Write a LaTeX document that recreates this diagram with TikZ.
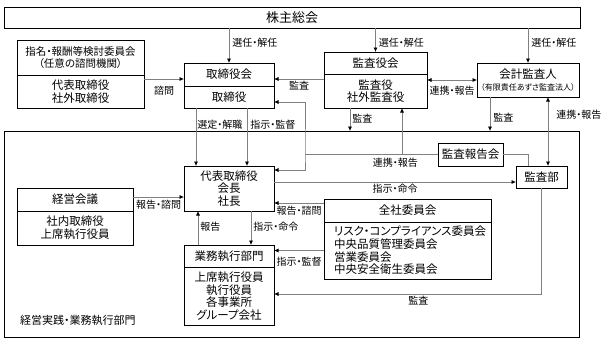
\documentclass[tikz,border=0pt]{standalone}
\usepackage{fontspec}
\setmainfont{Noto Sans CJK JP}[RawFeature=+palt]
\usepackage{tikz}
\usetikzlibrary{arrows.meta, positioning, calc}

\begin{document}
\begin{tikzpicture}[x=1pt, y=-1pt,
  box/.style={rectangle, draw, line width=0.9pt, inner sep=0pt, outer sep=0pt, align=center, font=\fontsize{11.5}{12.7}\selectfont},
  conn/.style={draw=black!50, line width=0.7pt},
  arr/.style={conn, -{Latex[length=4.5pt, width=4pt, color=black]}},
  arrboth/.style={conn, {Latex[length=4.5pt, width=4pt, color=black]}-{Latex[length=4.5pt, width=4pt, color=black]}},
  lbl/.style={font=\fontsize{10}{11}\selectfont, inner sep=0pt, text=black}]
\useasboundingbox (0,0) rectangle (605,343);

% 株主総会・取締役会・監査役会
\node (soukai) [box, minimum width=576, minimum height=21, font=\fontsize{13}{14}\selectfont] at (292,17.5) {株主総会};
\node (shimei) [box, minimum width=127, minimum height=35, font=\fontsize{10.5}{12}\selectfont] at (80.5,57.5) {指名・報酬等検討委員会\\（任意の諮問機関）};
\node (shimeimem) [box, minimum width=127, minimum height=33, below=0pt of shimei] {代表取締役\\社外取締役};
\node (torikai) [box, minimum width=90, minimum height=23] at (229,74.5) {取締役会};
\node (torishimari) [box, minimum width=90, minimum height=22, below=0pt of torikai] {取締役};
\node (kansakai) [box, minimum width=103, minimum height=22] at (375.5,63) {監査役会};
\node (kansayaku) [box, minimum width=103, minimum height=34, below=0pt of kansakai] {監査役\\社外監査役};
\node (kaikei) [box, minimum width=102, minimum height=34] at (528,80) {会計監査人\\{\fontsize{8}{9}\selectfont （有限責任あずさ監査法人）}};

% 経営実践・業務執行部門
\node (jikkou) [box, minimum width=575, minimum height=206] at (291.5,234) {};
\node (jikkoulbl) [anchor=west, inner sep=0pt, font=\fontsize{11}{12.5}\selectfont] at (20,320) {経営実践・業務執行部門};
\node (daihyou) [box, minimum width=90, minimum height=45] at (229,188.5) {代表取締役\\会長\\社長};
\node (keieikaigi) [box, minimum width=116, minimum height=23] at (75,199.5) {経営会議};
\node (keieimem) [box, minimum width=116, minimum height=34, below=0pt of keieikaigi] {社内取締役\\上席執行役員};
\node (gyoumu) [box, minimum width=90, minimum height=22] at (229,256) {業務執行部門};
\node (gyoumumem) [box, minimum width=90, minimum height=58, below=0pt of gyoumu] {上席執行役員\\執行役員\\各事業所\\グループ会社};
\node (zensha) [box, minimum width=167, minimum height=23] at (407.5,210.5) {全社委員会};
\node (zenshamem) [box, minimum width=167, minimum height=57, text width=147, align=left, inner xsep=10, below=0pt of zensha] {リスク・コンプライアンス委員会\\中央品質管理委員会\\営業委員会\\中央安全衛生委員会};
\node (kansahoukoku) [box, minimum width=65, minimum height=23] at (470.5,154.5) {監査報告会};
\node (kansabu) [box, minimum width=51, minimum height=22] at (541.5,177) {監査部};

% 選任・解任
\draw [arr] (soukai.south -| torikai.north) -- node[lbl, right=3pt, pos=0.41] {選任・解任} (torikai.north);
\draw [arr] (soukai.south -| kansakai.north) -- node[lbl, right=3pt, pos=0.6] {選任・解任} (kansakai.north);
\draw [arr] (soukai.south -| kaikei.north) -- node[lbl, right=3pt, pos=0.41] {選任・解任} (kaikei.north);

\draw [arr] ([yshift=-4pt]shimeimem.north east) -- node[lbl, below=7pt] {諮問} ([yshift=-4pt]shimeimem.north east -| torikai.west);
\draw [arr] ([yshift=-5pt]kansayaku.north west) -- node[lbl, below=2pt] {監査} ([yshift=-5pt]kansayaku.north west -| torikai.east);
\draw [arrboth] (kansayaku.east |- kaikei.west) -- node[lbl, below=6pt] {連携・報告} (kaikei.west);
\draw [arr] ([xshift=-25.5pt]kansayaku.south) -- node[lbl, right=2pt, pos=0.48] {監査} ([xshift=-25.5pt]kansayaku.south |- jikkou.north);
\draw [arr] ([xshift=-38pt]kaikei.south) -- node[lbl, right=3pt, pos=0.6] {監査} ([xshift=-38pt]kaikei.south |- jikkou.north);
\draw [arrboth] ([xshift=6.5pt]kansabu.north) -- node[lbl, right=8pt, pos=0.75] {連携・報告} ([xshift=6.5pt]kansabu.north |- kaikei.south);

\draw [arr] ([xshift=-33pt]torishimari.south) -- node[lbl, right=1pt, pos=0.28] {選定・解職} ([xshift=-33pt]torishimari.south |- daihyou.north);
\draw [arr] ([xshift=18pt]torishimari.south) -- node[lbl, right=3pt, pos=0.28] {指示・監督} ([xshift=18pt]torishimari.south |- daihyou.north);

% 監査報告会から
\coordinate (rk) at (kansahoukoku.west -| 305,0);
\draw [conn] (kansahoukoku.west) -- node[lbl, below=3pt, pos=0.32] {連携・報告} (rk);
\draw [arrboth] ([yshift=-5pt]torishimari.east) -| (rk) |- ([yshift=-4pt]daihyou.north east);
\draw [arr] ([xshift=26.5pt]kansayaku.south |- kansahoukoku.west) -- ([xshift=26.5pt]kansayaku.south);
\draw [conn] (kansahoukoku.east) -| ([xshift=-13.5pt]kansabu.north);

\draw [arr] ([yshift=6.5pt]daihyou.east) -- node[lbl, below=2pt] {指示・命令} ([yshift=6.5pt]daihyou.east -| kansabu.west);
\draw [arr] (kansabu.south) |- node[lbl, below=2pt, pos=0.73] {監査} ([yshift=2pt]gyoumumem.east);

\draw [arr] ([yshift=2.5pt]keieikaigi.east) -- node[lbl, below=3pt] {報告・諮問} ([yshift=2.5pt]keieikaigi.east -| daihyou.west);
\draw [arr] ([xshift=-31pt]gyoumu.north) -- node[lbl, right=2pt, pos=0.53] {報告} ([xshift=-31pt]gyoumu.north |- daihyou.south);
\draw [arr] ([xshift=22pt]daihyou.south) -- node[lbl, right=2pt, pos=0.47] {指示・命令} ([xshift=22pt]daihyou.south |- gyoumu.north);
\draw [arr] ([yshift=7.5pt]zensha.west) -- node[lbl, below=3pt] {報告・諮問} ([yshift=7.5pt]zensha.west -| daihyou.east);
\draw [arr] (zenshamem.west) -- node[lbl, below=6pt] {指示・監督} (zenshamem.west -| gyoumu.east);
\end{tikzpicture}
\end{document}
